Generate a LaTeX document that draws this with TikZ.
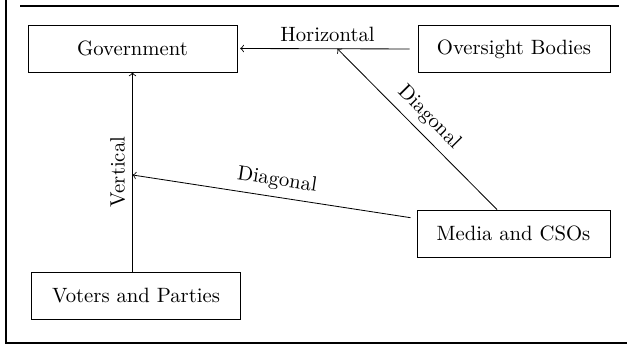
\documentclass[tikz,border=0pt]{standalone}
\usetikzlibrary{calc}
\begin{document}
\begin{tikzpicture}[x=0.483pt,y=-0.483pt,
  box/.style={draw, minimum height=22.7pt, inner xsep=8pt},
  conn/.style={->},
  rulestyle/.style={line width=1pt}]
\useasboundingbox (0,0) rectangle (627,345);
% frame rules
\draw[rulestyle] (20,6) -- (619,6);
\draw[rulestyle] (6,0) -- (6,343) -- (627,343);
% nodes
\node[box, minimum width=101pt] (gov) at (132.5,48.5) {Government};
\node[box, minimum width=92.8pt] (over) at (514,49) {Oversight Bodies};
\node[box, minimum width=101pt] (voters) at (136,295.5) {Voters and Parties};
\node[box, minimum width=93.2pt] (media) at (513.5,233.5) {Media and CSOs};
% helper coordinates
\coordinate (h) at ($(gov.east)!0.555!(over.west)$);
\coordinate (vb) at (gov.south |- voters.north);
\coordinate (v) at ($(gov.south)!0.515!(vb)$);
\coordinate (mt) at ($(media.north west)!0.415!(media.north east)$);
% connectors
\draw[conn, shorten <=3.8pt, shorten >=1.3pt] (over.west) -- node[above] {Horizontal} (gov.east);
\draw[conn] (vb) -- node[above, sloped] {Vertical} (gov.south);
\draw[conn, shorten <=3pt] (media) -- node[above, sloped] {Diagonal} (v);
\draw[conn] (mt) -- node[above, sloped] {Diagonal} (h);
\end{tikzpicture}
\end{document}
